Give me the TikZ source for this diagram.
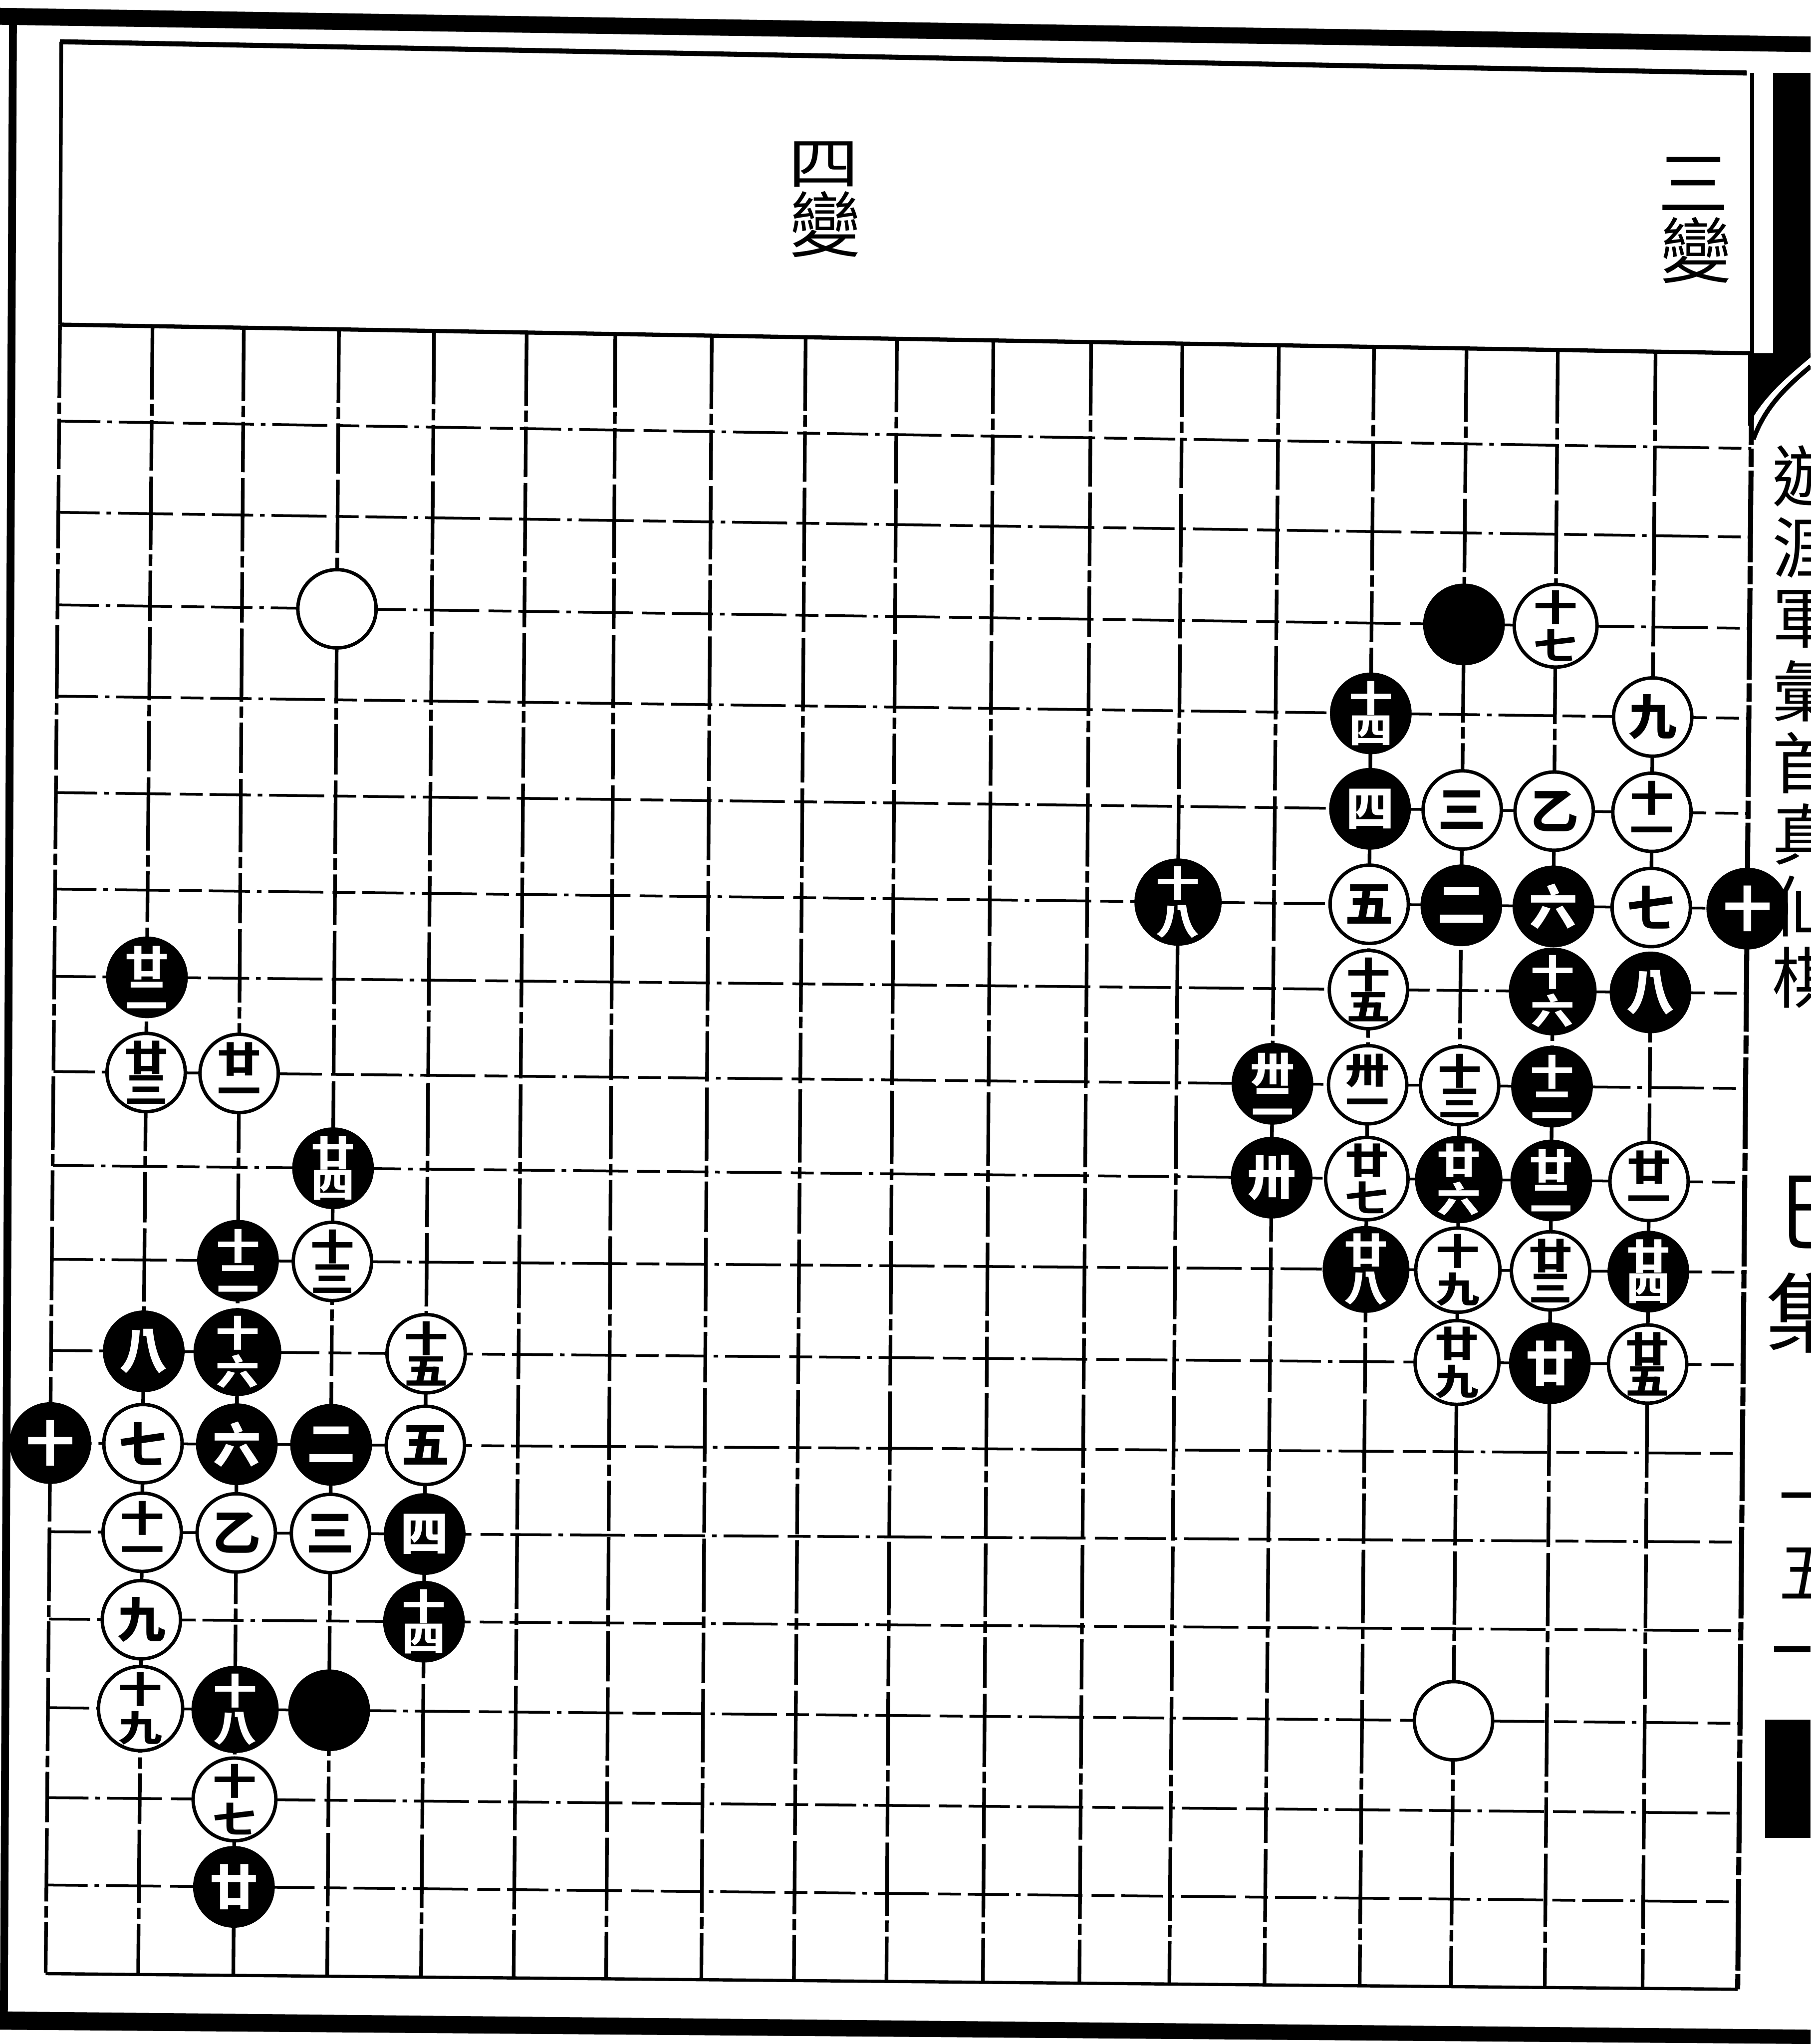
\documentclass[tikz,border=0pt]{standalone}
\usepackage{fontspec}
\usepackage{graphicx}
\newfontfamily\cjk{Noto Sans CJK TC}
\def\TX{{46,117,187,260,333,404,472,546,618,688,762,837,907,981,1054,1125,1195,1270,1344}}
\def\BX{{35,106,179,251,323,394,465,538,609,680,754,828,897,970,1043,1113,1185,1260,1333}}
\def\LY{{249,323,393,464,534,608,682,749,822,894,966,1036,1107,1175,1242,1310,1379,1446,1514}}
\def\RY{{271,344,412,482,551,624,697,762,835,907,976,1047,1115,1183,1251,1322,1391,1459,1526}}
\newcommand\tw[2]{\scalebox{1.22}[1]{#1}\\\scalebox{1.22}[1]{#2}}
\begin{document}
\begin{tikzpicture}[x=0.01cm,y=-0.01cm,
  hline/.style={line width=0.6pt,dash pattern=on 9pt off 1.5pt on 1pt off 1.5pt on 12pt off 2pt on 5pt off 1.5pt},
  vline/.style={line width=0.8pt,dash pattern=on 16pt off 1pt on 2.5pt off 1pt on 11pt off 1.3pt},
  stone/.style={circle,minimum size=0.6cm,inner sep=0pt,line width=0.75pt,draw=black,font=\cjk\bfseries\fontsize{10.5}{10.5}\selectfont},
  ws/.style={stone,fill=white,text=black},
  bs/.style={stone,fill=black,text=white},
  two/.style={align=center,font=\cjk\bfseries\fontsize{7.8}{6.9}\selectfont},
  htext/.style={inner sep=0pt,font=\cjk\fontsize{15.5}{15.5}\selectfont},
  mtext/.style={inner sep=0pt,font=\cjk\fontsize{14.5}{14.5}\selectfont},
  btext/.style={inner sep=0pt,font=\cjk\fontsize{19}{19}\selectfont}]
\useasboundingbox (0,0) rectangle (1389,1568);
\clip (0,0) rectangle (1389,1568);
\fill[white] (0,0) rectangle (1389,1568);
% grid intersections
\foreach \c in {0,...,18}{
  \foreach \r in {0,...,18}{
    \pgfmathsetmacro\pxa{\TX[\c]}
    \pgfmathsetmacro\pxb{\BX[\c]}
    \pgfmathsetmacro\pya{\LY[\r]}
    \pgfmathsetmacro\pyb{\RY[\r]}
    \pgfmathsetmacro\px{\pxa+(\pxb-\pxa)*\r/18}
    \pgfmathsetmacro\py{\pya+(\pyb-\pya)*\c/18}
    \coordinate (g-\c-\r) at (\px,\py);
  }
}
% outer frame
\fill (0,6) -- (1389,28) -- (1389,40) -- (0,19) -- cycle;
\fill (7,8) -- (13,8) -- (6,1548) -- (0,1548) -- cycle;
\fill (0,1543) -- (1389,1557) -- (1389,1568) -- (0,1557) -- cycle;
% inner frame of the header
\draw[line width=1.1pt] (46,32) -- (1340,56);
\draw[line width=0.8pt] (47,32) -- (g-0-0);
\draw[line width=0.9pt] (1344,56) -- (g-18-0);
% grid
\foreach \r in {1,...,17}{\draw[hline] (g-0-\r) -- (g-18-\r);}
\foreach \c in {1,...,17}{\draw[vline] (g-\c-0) -- (g-\c-18);}
\draw[vline] (g-0-0) -- (g-0-18);
\draw[line width=1.1pt,dash pattern=on 20pt off 0.8pt on 4pt off 0.8pt] (g-18-0) -- (g-18-18);
\draw[line width=0.9pt] (g-0-0) -- (g-18-0);
\draw[line width=0.7pt] (g-0-18) -- (g-18-18);
% right margin: fishtail and blocks
\fill (1360,56) rectangle (1389,272);
\fill (1341,271) -- (1389,271) -- (1389,274) .. controls (1370,290) and (1352,305) .. (1341,327) -- cycle;
\draw[line width=1pt] (1389,281) .. controls (1370,297) and (1354,312) .. (1345,337);
\fill (1354,1319) rectangle (1389,1410);
\draw[line width=1.3pt] (1361,1265) -- (1389,1265);
% header labels
\node[htext] (h1) at (632,126) {\scalebox{1}[0.8]{四}};
\node[htext] (h2) at (633,172) {變};
\node[htext] (h3) at (1299,141) {三};
\node[htext] (h4) at (1301,192) {變};
% margin texts
\node[mtext] (m1) at (1385,365) {遊};
\node[mtext] (m2) at (1385,420) {涯};
\node[mtext] (m3) at (1385,475) {軍};
\node[mtext] (m4) at (1385,530) {彙};
\node[mtext] (m5) at (1385,585) {首};
\node[mtext] (m6) at (1385,640) {真};
\node[mtext] (m7) at (1385,695) {仙};
\node[mtext] (m8) at (1385,750) {棋};
\node[btext] (m9) at (1397,930) {巳};
\node[btext] (m10) at (1388,1007) {集};
\node[mtext] (m11) at (1390,1156) {一};
\node[mtext] (m12) at (1390,1207) {五};
% right diagram stones
\node[bs] (r0) at (g-15-3) {};
\node[ws,two] (r17) at (g-16-3) {\tw{十}{七}};
\node[bs,two] (r14) at (g-14-4) {\tw{十}{四}};
\node[ws] (r9) at (g-17-4) {九};
\node[bs] (r4) at (g-14-5) {四};
\node[ws] (r3) at (g-15-5) {三};
\node[ws] (r1) at (g-16-5) {乙};
\node[ws,two] (r11) at (g-17-5) {\tw{十}{一}};
\node[bs,two] (r18) at (g-12-6) {\tw{十}{八}};
\node[ws] (r5) at (g-14-6) {五};
\node[bs] (r2) at (g-15-6) {二};
\node[bs] (r6) at (g-16-6) {六};
\node[ws] (r7) at (g-17-6) {七};
\node[bs] (r10) at (g-18-6) {十};
\node[ws,two] (r15) at (g-14-7) {\tw{十}{五}};
\node[bs,two] (r16) at (g-16-7) {\tw{十}{六}};
\node[bs] (r8) at (g-17-7) {八};
\node[bs,two] (r32) at (g-13-8) {\tw{卅}{二}};
\node[ws,two] (r31) at (g-14-8) {\tw{卅}{一}};
\node[ws,two] (r13) at (g-15-8) {\tw{十}{三}};
\node[bs,two] (r12) at (g-16-8) {\tw{十}{二}};
\node[bs] (r30) at (g-13-9) {卅};
\node[ws,two] (r27) at (g-14-9) {\tw{廿}{七}};
\node[bs,two] (r26) at (g-15-9) {\tw{廿}{六}};
\node[bs,two] (r22) at (g-16-9) {\tw{廿}{二}};
\node[ws,two] (r21) at (g-17-9) {\tw{廿}{一}};
\node[bs,two] (r28) at (g-14-10) {\tw{廿}{八}};
\node[ws,two] (r19) at (g-15-10) {\tw{十}{九}};
\node[ws,two] (r23) at (g-16-10) {\tw{廿}{三}};
\node[bs,two] (r24) at (g-17-10) {\tw{廿}{四}};
\node[ws,two] (r29) at (g-15-11) {\tw{廿}{九}};
\node[bs] (r20) at (g-16-11) {廿};
\node[ws,two] (r25) at (g-17-11) {\tw{廿}{五}};
\node[ws] (rw) at (g-15-15) {};
% left diagram stones
\node[ws] (lw) at (g-3-3) {};
\node[bs,two] (l22) at (g-1-7) {\tw{廿}{二}};
\node[ws,two] (l23) at (g-1-8) {\tw{廿}{三}};
\node[ws,two] (l21) at (g-2-8) {\tw{廿}{一}};
\node[bs,two] (l24) at (g-3-9) {\tw{廿}{四}};
\node[bs,two] (l12) at (g-2-10) {\tw{十}{二}};
\node[ws,two] (l13) at (g-3-10) {\tw{十}{三}};
\node[bs] (l8) at (g-1-11) {八};
\node[bs,two] (l16) at (g-2-11) {\tw{十}{六}};
\node[ws,two] (l15) at (g-4-11) {\tw{十}{五}};
\node[bs] (l10) at (g-0-12) {十};
\node[ws] (l7) at (g-1-12) {七};
\node[bs] (l6) at (g-2-12) {六};
\node[bs] (l2) at (g-3-12) {二};
\node[ws] (l5) at (g-4-12) {五};
\node[ws,two] (l11) at (g-1-13) {\tw{十}{一}};
\node[ws] (l1) at (g-2-13) {乙};
\node[ws] (l3) at (g-3-13) {三};
\node[bs] (l4) at (g-4-13) {四};
\node[ws] (l9) at (g-1-14) {九};
\node[bs,two] (l14) at (g-4-14) {\tw{十}{四}};
\node[ws,two] (l19) at (g-1-15) {\tw{十}{九}};
\node[bs,two] (l18) at (g-2-15) {\tw{十}{八}};
\node[bs] (lb) at (g-3-15) {};
\node[ws,two] (l17) at (g-2-16) {\tw{十}{七}};
\node[bs] (l20) at (g-2-17) {廿};
\end{tikzpicture}
\end{document}
